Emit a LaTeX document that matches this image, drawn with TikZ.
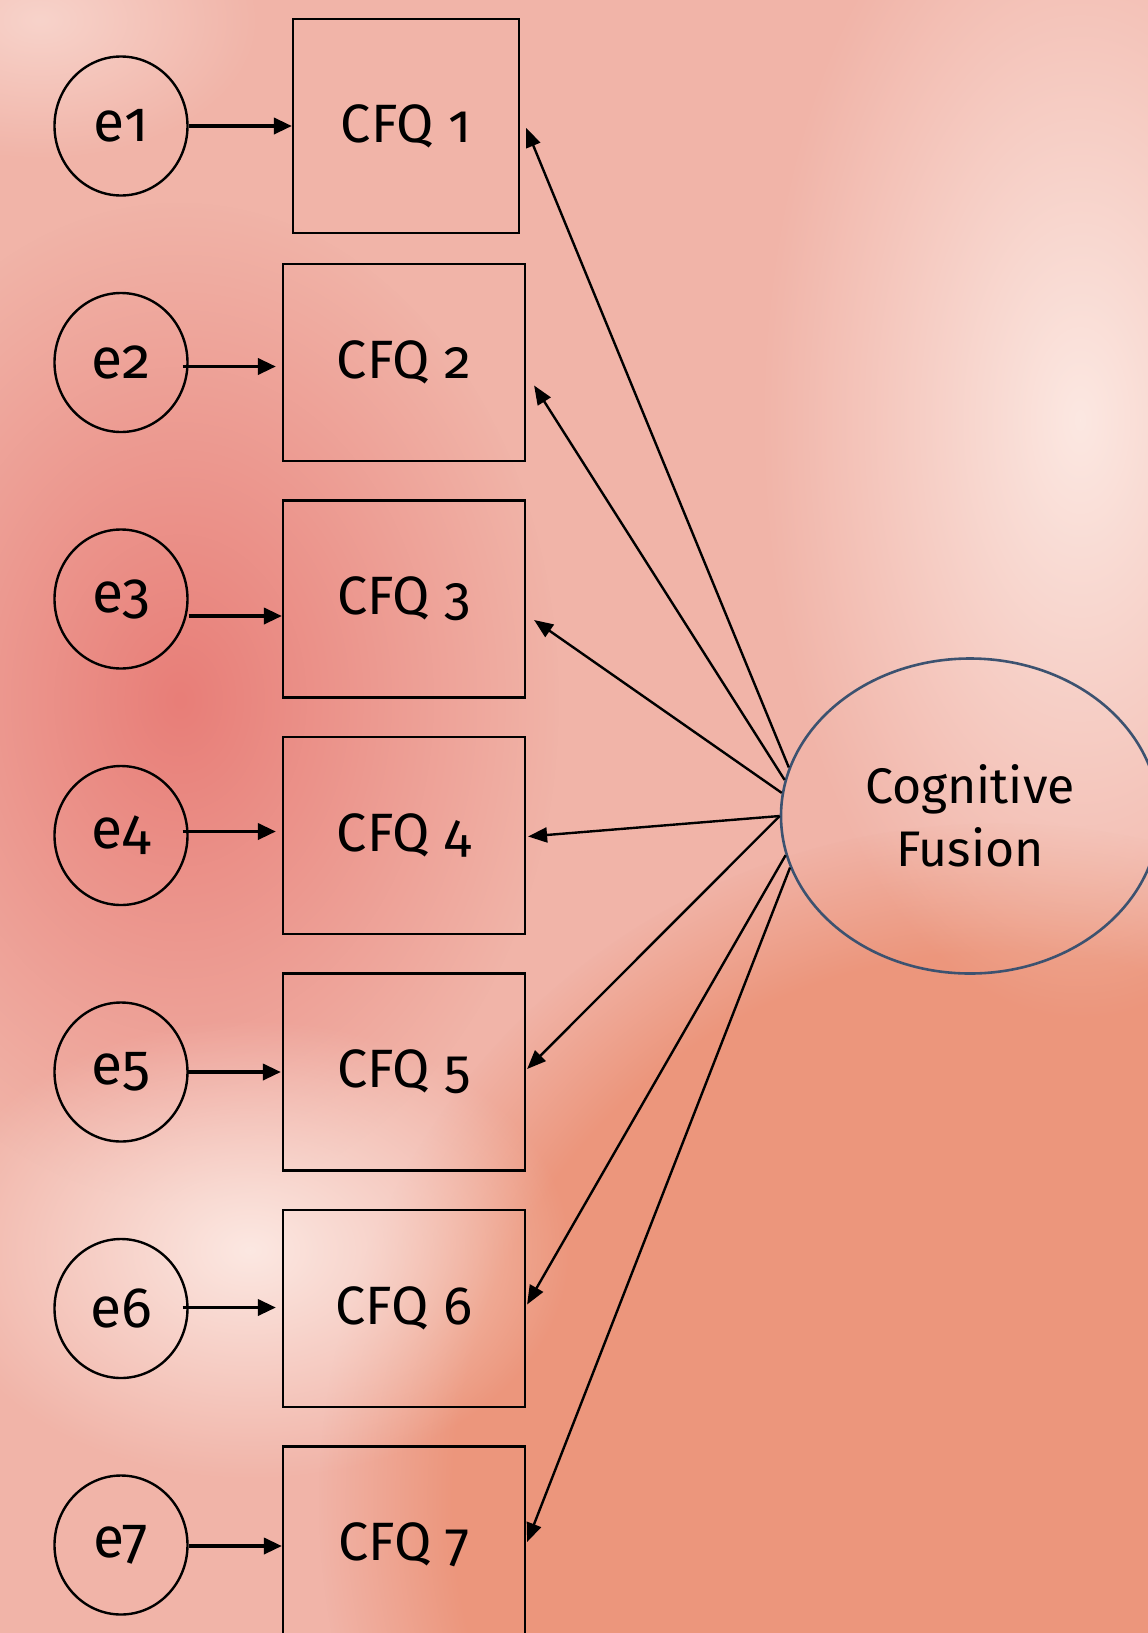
\documentclass[tikz,border=0pt]{standalone}
\usepackage{fontspec}
\setmainfont{Fira Sans}[Numbers=OldStyle]
\usetikzlibrary{arrows.meta,shapes.geometric,fadings}

\definecolor{bgbase}{RGB}{241,180,168}
\definecolor{bgred}{RGB}{232,126,120}
\definecolor{bgwhite}{RGB}{252,232,226}
\definecolor{bgorange}{RGB}{236,150,124}
\definecolor{cfline}{RGB}{60,82,112}

\tikzfading[name=softblob, inner color=transparent!0, outer color=transparent!100]

\tikzset{
  errnode/.style={draw, ellipse, line width=2.4pt, minimum width=133pt,
    minimum height=139pt, inner sep=0pt, font=\fontsize{57}{60}\selectfont},
  cfqbox/.style={draw, rectangle, line width=2.2pt, minimum width=242pt,
    minimum height=197pt, inner sep=0pt, font=\fontsize{54}{60}\selectfont},
  factor/.style={draw=cfline, ellipse, line width=2.6pt, minimum width=378pt,
    minimum height=315pt, inner sep=0pt, align=center,
    font=\fontsize{50}{63}\selectfont},
  errarrow/.style={line width=3.6pt, -{Triangle[length=18pt,width=16pt]}},
  loadarrow/.style={line width=2.4pt, -{Triangle[length=19pt,width=15pt]}},
}

\begin{document}
\begin{tikzpicture}[x=1pt, y=-1pt]
  \useasboundingbox (0,0) rectangle (1148,1633);
  % background
  \fill[bgbase] (0,0) rectangle (1148,1633);
  \fill[bgorange, path fading=circle with fuzzy edge 20 percent] (1000,1500) ellipse (680 and 680);
  \fill[bgred, path fading=softblob] (180,700) ellipse (380 and 500);
  \fill[bgwhite, path fading=softblob] (1080,420) ellipse (320 and 600);
  \fill[bgwhite, path fading=softblob] (250,1250) ellipse (320 and 230);
  \fill[bgwhite, opacity=0.6, path fading=softblob] (40,20) ellipse (220 and 140);

  % factor
  \node[factor] (cf) at (970,816) {Cognitive\\Fusion};

  % indicators and errors
  \node[cfqbox, minimum width=226pt, minimum height=214pt] (cfq1) at (406,126) {CFQ 1};
  \foreach \i in {2,...,7}
    \node[cfqbox] (cfq\i) at (404,{126+236.5*(\i-1)}) {CFQ \i};
  \foreach \i in {1,...,7}
    \node[errnode] (e\i) at (121,{126+236.5*(\i-1)}) {e\i};

  % error arrows
  \foreach \i/\sx/\sy in {1/0/0, 2/-6/-4, 3/0/-17, 4/-6/4, 5/-1/0, 6/-6/1, 7/0/-1}
    \draw[errarrow] ([xshift=\sx pt, yshift=\sy pt]e\i.east)
      -- ([xshift=\sx pt, yshift=\sy pt]cfq\i.west);

  % loadings
  \foreach \i/\ang/\dx/\dy in {1/165/6/-2, 2/169/8/-23, 3/173/8/-21, 4/180/2/-1,
      5/180/1/3, 6/192.6/1/4, 7/196.4/1/3}
    \draw[loadarrow] (cf.\ang) -- ([xshift=\dx pt, yshift=\dy pt]cfq\i.east);
\end{tikzpicture}
\end{document}
